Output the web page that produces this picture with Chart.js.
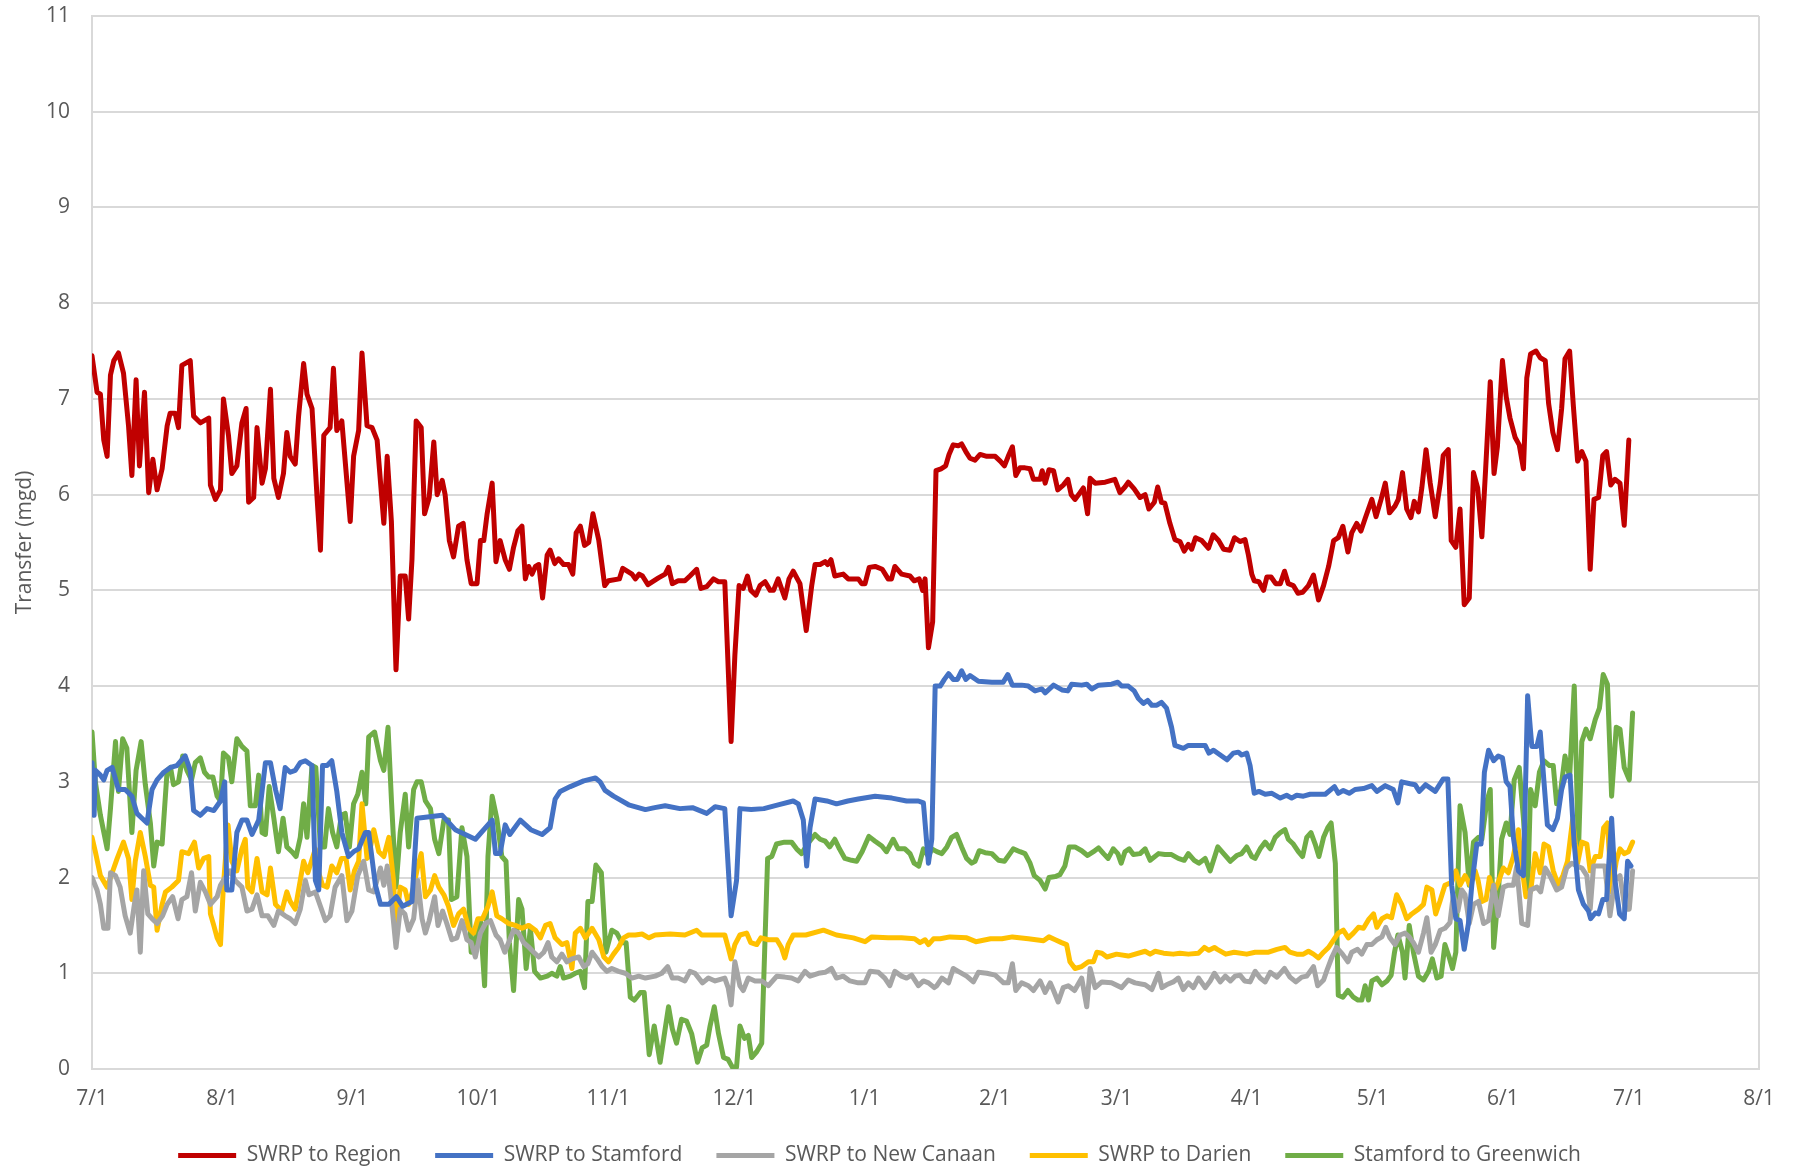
<!DOCTYPE html>
<html>
<head>
<meta charset="utf-8">
<title>Transfers</title>
<script src="https://cdn.jsdelivr.net/npm/chart.js@4.4.1/dist/chart.umd.min.js"></script>
<style>
  html, body { margin: 0; padding: 0; background: #fff; }
  #wrap { width: 1797px; height: 1171px; position: relative; overflow: hidden; }
</style>
</head>
<body>
<div id="wrap"><canvas id="graficoTransfer"></canvas></div>
<script>
// days counted from 7/1, values in mgd
var monthStarts = [0, 31, 62, 92, 123, 153, 184, 215, 244, 275, 305, 336, 366, 397];
var monthLabels = ['7/1', '8/1', '9/1', '10/1', '11/1', '12/1', '1/1', '2/1', '3/1', '4/1', '5/1', '6/1', '7/1', '8/1'];
var yTicks = [0, 1, 2, 3, 4, 5, 6, 7, 8, 9, 10, 11];

var swrpRegion = [[0,7.45],[1.2,7.07],[2,7.05],[2.8,6.57],[3.6,6.4],[4.4,7.25],[5.2,7.4],[6.3,7.48],[7.5,7.27],[8.7,6.72],[9.5,6.2],[10.5,7.2],[11.3,6.3],[12.5,7.07],[13.5,6.02],[14.5,6.37],[15.5,6.05],[16.7,6.27],[17.9,6.72],[18.6,6.85],[19.8,6.85],[20.6,6.7],[21.4,7.35],[23.4,7.4],[24.2,6.82],[25.8,6.75],[27.8,6.8],[28.2,6.1],[29.4,5.95],[30.6,6.05],[31.3,7.0],[32.5,6.62],[33.3,6.22],[34.5,6.3],[35.7,6.75],[36.7,6.9],[37.3,5.92],[38.5,5.97],[39.3,6.7],[40.5,6.12],[41.3,6.27],[42.5,7.1],[43.3,6.17],[44.4,5.97],[45.6,6.22],[46.4,6.65],[47.2,6.4],[48.4,6.32],[49.2,6.82],[50.4,7.37],[51.2,7.05],[52.4,6.9],[53.6,5.97],[54.4,5.42],[55.2,6.62],[56.7,6.7],[57.5,7.32],[58.3,6.67],[59.5,6.77],[61.5,5.72],[62.3,6.4],[63.5,6.67],[64.3,7.48],[65.5,6.72],[66.7,6.7],[67.9,6.57],[69.5,5.7],[70.3,6.4],[71.3,5.72],[72.4,4.17],[73.4,5.15],[74.6,5.15],[75.4,4.7],[76.2,5.32],[77.2,6.77],[78.4,6.7],[79.2,5.8],[80.3,5.97],[81.4,6.55],[82.2,6.0],[83.4,6.15],[84.1,6.0],[85.1,5.52],[86.1,5.35],[87.3,5.67],[88.4,5.7],[89.3,5.32],[90.3,5.07],[91.7,5.07],[92.5,5.52],[93.3,5.52],[94.1,5.8],[95.3,6.12],[96.2,5.3],[97.2,5.52],[98.4,5.32],[99.4,5.22],[100.4,5.45],[101.4,5.62],[102.4,5.67],[103.2,5.12],[104,5.25],[104.8,5.17],[105.6,5.25],[106.4,5.27],[107.3,4.92],[108.4,5.37],[109.1,5.42],[110.2,5.28],[111.1,5.33],[112.3,5.27],[113.5,5.27],[114.5,5.17],[115.3,5.6],[116.3,5.67],[117.3,5.47],[118.3,5.5],[119.3,5.8],[120.7,5.52],[122.1,5.05],[123,5.1],[125.6,5.12],[126.4,5.23],[128.6,5.17],[129.4,5.12],[130.3,5.17],[131.1,5.15],[132.4,5.06],[134.9,5.13],[136.5,5.17],[137.3,5.24],[138.2,5.07],[139.6,5.1],[141.2,5.1],[142.4,5.15],[144,5.22],[145,5.02],[146.4,5.04],[148,5.12],[149.2,5.09],[150.7,5.09],[152.2,3.42],[153.1,4.32],[154.1,5.05],[155.1,5.02],[156.1,5.15],[156.9,5.0],[158.1,4.95],[159.1,5.05],[160.3,5.09],[161.5,5.0],[162.3,5.0],[163.4,5.12],[165,4.92],[166,5.12],[167,5.2],[168.6,5.07],[170.1,4.58],[171.4,5.05],[172.2,5.27],[173.4,5.27],[174.6,5.3],[175.2,5.27],[176,5.32],[176.9,5.15],[178.9,5.17],[180.1,5.12],[182.5,5.12],[183.3,5.07],[184.1,5.07],[185.1,5.24],[186.5,5.25],[188.2,5.22],[189.6,5.12],[190.4,5.12],[191.2,5.25],[192.8,5.17],[194.8,5.15],[195.8,5.1],[197,5.12],[197.8,5.0],[198.4,5.12],[199.2,4.4],[200.2,4.67],[201,6.25],[202.2,6.27],[203.3,6.3],[204.1,6.42],[205.1,6.52],[206.3,6.51],[207.1,6.53],[208.1,6.45],[209.1,6.38],[210.3,6.36],[211.5,6.42],[213.1,6.4],[215.1,6.4],[216.3,6.35],[217.3,6.3],[218.2,6.4],[219.2,6.5],[220,6.2],[221,6.28],[222.2,6.28],[223.4,6.27],[224.2,6.16],[225.8,6.16],[226.3,6.25],[227,6.12],[227.9,6.26],[229,6.25],[230,6.05],[231.3,6.1],[232.4,6.16],[233.2,6.0],[234.1,5.95],[235.3,6.02],[236.1,6.07],[237.1,5.8],[237.7,6.17],[238.9,6.12],[241.3,6.13],[243.6,6.16],[244.8,6.02],[246,6.08],[246.8,6.13],[248.2,6.06],[249.6,5.97],[250.8,6.0],[251.7,5.85],[253,5.92],[253.8,6.08],[254.7,5.92],[255.5,5.91],[256.7,5.7],[257.9,5.53],[259.1,5.51],[260.1,5.41],[261.1,5.48],[261.9,5.43],[262.8,5.55],[264.3,5.52],[265.9,5.44],[267,5.58],[268.3,5.52],[269.5,5.43],[271,5.42],[272.1,5.55],[273.4,5.51],[274.6,5.53],[275.4,5.37],[276.2,5.17],[276.8,5.1],[277.9,5.09],[279,5.0],[279.8,5.14],[280.8,5.14],[281.9,5.07],[283,5.07],[284,5.2],[284.9,5.07],[286.1,5.05],[287.2,4.97],[288.3,4.98],[289.7,5.05],[290.9,5.16],[292.1,4.9],[293.3,5.05],[294.5,5.25],[295.7,5.52],[296.8,5.55],[297.9,5.67],[299.1,5.4],[300,5.6],[301.2,5.7],[302.2,5.62],[303.2,5.75],[304.8,5.95],[305.8,5.77],[307,5.95],[308,6.12],[309,5.81],[310.3,5.88],[311.1,5.95],[312.1,6.23],[313.1,5.85],[314.1,5.76],[314.9,5.93],[315.9,5.82],[316.7,6.07],[317.7,6.47],[318.7,6.12],[319.9,5.77],[321.1,6.12],[321.8,6.41],[323,6.47],[323.7,5.52],[324.8,5.45],[325.8,5.85],[326.8,4.85],[328,4.92],[329,6.23],[330,6.07],[331,5.56],[331.9,6.27],[333,7.18],[333.9,6.22],[334.7,6.5],[335.9,7.4],[336.8,7.02],[337.7,6.8],[338.9,6.6],[339.9,6.52],[340.9,6.27],[341.7,7.22],[342.6,7.47],[343.9,7.5],[344.9,7.43],[346.1,7.4],[346.9,6.95],[347.9,6.65],[349,6.47],[350,6.9],[350.8,7.42],[351.9,7.5],[352.8,6.92],[353.8,6.35],[354.8,6.45],[355.8,6.35],[356.8,5.22],[357.7,5.95],[358.8,5.97],[359.8,6.41],[360.7,6.45],[361.7,6.1],[362.7,6.16],[363.9,6.12],[364.9,5.68],[366,6.57]];

var swrpStamford = [[0,3.2],[0.5,2.65],[0.8,3.12],[2,3.07],[2.8,3.02],[3.6,3.12],[4.8,3.15],[6.3,2.92],[7.9,2.92],[9.5,2.85],[10.7,2.67],[11.9,2.62],[13.1,2.57],[14.3,2.92],[15.5,3.02],[17.1,3.1],[18.7,3.15],[20.2,3.17],[22.2,3.27],[23.4,3.12],[24.2,2.7],[25.8,2.65],[27.4,2.72],[29,2.7],[30.6,2.8],[31.6,3.0],[32.1,1.87],[33.3,1.87],[34.5,2.47],[35.7,2.6],[36.9,2.6],[38.1,2.45],[39.7,2.6],[41.3,3.2],[42.5,3.2],[43.7,2.92],[44.8,2.72],[46,3.15],[47.2,3.1],[48.4,3.12],[49.6,3.2],[50.8,3.22],[52.4,3.17],[53.2,1.97],[54,1.87],[54.9,3.17],[56,3.17],[57.1,3.22],[58.3,2.9],[59.5,2.47],[61.1,2.22],[62.3,2.27],[63.5,2.3],[65.1,2.47],[65.9,2.47],[67.5,1.92],[68.7,1.72],[70.7,1.72],[72.5,1.8],[74,1.7],[76.2,1.75],[77.4,2.62],[83.4,2.65],[86.5,2.5],[91.3,2.4],[95.3,2.6],[96.1,2.25],[97.2,2.25],[98.4,2.55],[99.5,2.45],[102,2.6],[104.5,2.5],[107.2,2.45],[109.1,2.52],[110.3,2.82],[111.5,2.9],[113.9,2.95],[117.1,3.01],[119.9,3.04],[121,3.0],[122.2,2.91],[124.2,2.85],[127.8,2.76],[131.8,2.71],[134,2.73],[136.5,2.75],[140,2.72],[143,2.73],[146.4,2.67],[148.4,2.74],[150.7,2.72],[152.2,1.6],[153.5,1.97],[154.3,2.72],[157,2.71],[160,2.72],[163.4,2.76],[167,2.8],[168.2,2.77],[169.4,2.6],[170.2,2.12],[171,2.52],[172.2,2.82],[175,2.8],[177.3,2.77],[180,2.8],[182.5,2.82],[186.5,2.85],[190.5,2.83],[194,2.8],[196.8,2.8],[198,2.78],[199.2,2.15],[200,2.4],[200.8,4.0],[202,4.0],[203,4.07],[204,4.13],[205.1,4.07],[206.1,4.07],[207.1,4.16],[208.1,4.07],[209.1,4.11],[211.1,4.05],[214.3,4.04],[217,4.04],[218.1,4.12],[219.2,4.01],[221.4,4.01],[223,4.0],[224.6,3.95],[226.2,3.97],[227,3.93],[229,4.01],[231,3.96],[232.4,3.95],[233.3,4.02],[235.7,4.01],[236.9,4.02],[238.1,3.97],[239.7,4.01],[242.8,4.02],[244.3,4.04],[245.2,4.0],[246.8,4.0],[248.2,3.95],[249.2,3.87],[250.4,3.82],[251.4,3.85],[252.4,3.8],[253.6,3.8],[254.7,3.83],[255.9,3.77],[257.1,3.57],[257.9,3.38],[259.9,3.35],[261.1,3.38],[262.7,3.38],[265.1,3.38],[266,3.3],[267.1,3.33],[268.7,3.28],[270.3,3.23],[271.8,3.3],[273,3.31],[273.8,3.28],[275,3.3],[275.8,3.17],[276.8,2.88],[277.9,2.9],[279.4,2.87],[281,2.88],[283,2.83],[284.5,2.86],[285.7,2.83],[286.9,2.86],[288.5,2.85],[290.1,2.87],[292.1,2.87],[293.7,2.87],[295.9,2.95],[296.8,2.88],[298,2.91],[299.4,2.88],[300.8,2.92],[302.8,2.93],[304.8,2.96],[306,2.9],[308,2.96],[309.9,2.92],[311,2.78],[311.9,3.0],[313.9,2.98],[315.1,2.97],[316.1,2.9],[317.6,2.97],[319.9,2.9],[321.8,3.03],[322.9,3.03],[323.8,1.92],[324.8,1.57],[325.8,1.55],[326.8,1.25],[327.8,1.52],[328.6,1.92],[329.8,2.35],[330.8,2.35],[331.6,3.1],[332.6,3.33],[333.8,3.22],[334.9,3.27],[335.9,3.25],[336.8,3.0],[337.7,2.95],[338.5,2.42],[339.7,2.07],[340.9,2.02],[341.9,3.9],[342.9,3.37],[344.1,3.37],[344.9,3.52],[345.7,3.05],[346.6,2.55],[347.9,2.5],[349,2.62],[350,2.92],[350.8,3.05],[352,3.07],[353,2.35],[354,1.87],[355.2,1.72],[356.4,1.65],[356.9,1.57],[358,1.63],[358.8,1.62],[359.8,1.77],[360.7,1.77],[361.9,2.62],[362.7,1.97],[363.8,1.62],[364.9,1.57],[365.7,2.17],[366.5,2.12]];

var swrpNewCanaan = [[0,2.0],[1.2,1.87],[2,1.72],[2.8,1.47],[3.8,1.47],[4.4,2.05],[5.6,2.02],[6.7,1.9],[7.9,1.6],[9.1,1.42],[10.2,1.75],[10.7,1.87],[11.5,1.22],[12.3,2.07],[13.3,1.62],[14.3,1.57],[15.5,1.52],[16.8,1.6],[17.9,1.72],[19.2,1.8],[20.5,1.57],[21.4,1.77],[22.6,1.8],[23.7,2.05],[24.6,1.65],[25.8,1.95],[27,1.85],[28.2,1.72],[29.8,1.8],[30.6,1.92],[31.7,2.0],[32.9,2.07],[34.1,1.97],[35.7,1.9],[36.9,1.65],[38.1,1.67],[39.3,1.82],[40.5,1.6],[41.9,1.6],[43.3,1.5],[44.4,1.65],[46,1.6],[47.2,1.57],[48.4,1.52],[49.6,1.67],[50.8,1.97],[51.7,1.82],[53.2,1.85],[54.4,1.7],[55.6,1.55],[56.7,1.6],[57.9,1.9],[59.5,2.02],[60.7,1.55],[61.9,1.65],[63.3,2.02],[64.7,2.17],[65.9,1.87],[67.1,1.85],[68.7,2.1],[69.5,1.92],[70.3,2.12],[71.4,1.72],[72.4,1.27],[73.4,1.67],[74.5,1.62],[75.4,1.45],[76.6,1.57],[77.6,1.97],[78.6,1.57],[79.4,1.42],[80.3,1.55],[81.6,1.8],[82.4,1.5],[83.5,1.65],[84.5,1.52],[85.7,1.35],[86.9,1.37],[88.1,1.55],[89.3,1.35],[90.3,1.32],[91.3,1.17],[92.5,1.42],[93.7,1.52],[94.9,1.55],[96.2,1.4],[97.2,1.35],[98.3,1.22],[99.2,1.32],[100.4,1.45],[101.6,1.42],[102.8,1.32],[104.1,1.27],[105.2,1.22],[106.4,1.17],[107.6,1.22],[108.6,1.32],[109.5,1.17],[110.7,1.12],[111.9,1.2],[113.1,1.12],[114.3,1.15],[115.9,1.17],[117.1,1.07],[118.1,1.1],[119.1,1.22],[120.3,1.15],[121.5,1.07],[122.6,1.02],[123.8,1.05],[125.4,1.02],[127,1.0],[128.6,0.95],[130.2,0.97],[131.8,0.95],[134.1,0.97],[135.7,1.0],[137.1,1.07],[138.2,0.95],[139.6,0.95],[141.2,0.92],[142.4,1.02],[143.6,1.0],[145.4,0.9],[146.8,0.95],[148.4,0.92],[150.7,0.95],[151.5,0.85],[152.2,0.67],[153.1,1.12],[154.3,0.87],[155.1,0.82],[156.3,0.95],[157.9,0.92],[159.5,0.92],[161.1,0.87],[163.1,0.97],[165,0.96],[166.6,0.95],[168.2,0.92],[169.8,1.02],[171,0.97],[173,1.0],[174.6,1.01],[176.1,1.05],[177.3,0.95],[178.9,0.97],[180.5,0.92],[182.5,0.9],[184.1,0.9],[185.3,1.02],[187.3,1.01],[188.8,0.95],[190,0.87],[191.2,1.02],[192.8,0.97],[194,0.95],[195.2,0.98],[196.8,0.87],[198,0.92],[199.2,0.9],[200.6,0.85],[201.2,0.87],[202.4,0.95],[204,0.9],[205.1,1.05],[206.3,1.02],[208.3,0.97],[209.9,0.91],[211.1,1.01],[213.1,1.0],[215.1,0.98],[217.1,0.9],[218.2,0.9],[219.2,1.1],[220,0.82],[221.4,0.9],[223,0.87],[224.2,0.82],[225.8,0.92],[227,0.8],[228.2,0.9],[229,0.82],[230.1,0.7],[231.3,0.85],[232.5,0.87],[234,0.82],[235.7,0.95],[236.9,0.65],[237.7,1.05],[238.9,0.85],[240.5,0.91],[242.8,0.9],[245.2,0.85],[246.8,0.93],[248.4,0.9],[250.8,0.88],[252.4,0.83],[254,1.0],[254.8,0.85],[255.9,0.88],[257.5,0.91],[258.7,0.95],[259.9,0.83],[261.1,0.9],[262.3,0.85],[263.5,0.95],[265.1,0.85],[266.3,0.92],[267.3,1.0],[268.7,0.91],[269.9,0.97],[271.1,0.92],[272.2,0.97],[273.4,0.98],[274.5,0.92],[275.8,0.91],[277,1.02],[278.2,0.95],[279.4,0.91],[280.6,1.01],[282.2,0.96],[284,1.05],[285.3,0.96],[286.7,0.91],[288.1,0.96],[289.3,0.97],[290.9,1.07],[291.9,0.87],[293.3,0.93],[294.1,1.03],[295.3,1.17],[296.4,1.27],[297.8,1.2],[299.1,1.12],[300,1.22],[301.4,1.25],[302.4,1.2],[303.6,1.3],[304.8,1.3],[306,1.35],[307.2,1.38],[308.1,1.48],[309.1,1.37],[310.3,1.3],[311.5,1.4],[312.7,1.42],[313.7,1.38],[314.7,1.32],[315.9,1.22],[317.1,1.42],[317.9,1.58],[318.9,1.22],[319.9,1.3],[321.1,1.45],[322.2,1.47],[323.4,1.53],[324.2,1.82],[325.3,1.65],[326.2,1.87],[327,1.82],[328,1.52],[329,1.72],[330.2,1.75],[331.4,1.52],[332.6,1.55],[333.8,1.92],[334.9,1.6],[336.1,1.9],[337.3,1.92],[338.5,1.92],[339.3,2.12],[340.5,1.52],[341.9,1.5],[342.6,1.87],[344.1,1.9],[345,1.85],[346.1,2.1],[347.2,2.02],[348.8,1.87],[350,1.9],[351.2,2.1],[352.4,2.15],[353.6,2.12],[354.8,2.1],[356,2.02],[356.8,1.67],[357.6,2.12],[359.2,2.12],[360.3,2.12],[361.5,1.6],[362.7,1.97],[363.9,2.02],[365.1,1.67],[366.1,1.67],[366.9,2.07]];

var swrpDarien = [[0,2.42],[0.8,2.27],[2,2.02],[3.6,1.9],[4.8,2.05],[6,2.2],[7.5,2.37],[8.7,2.2],[9.5,1.77],[10.3,2.17],[11.5,2.47],[12.7,2.22],[13.9,1.92],[14.7,1.9],[15.5,1.45],[16.7,1.72],[17.5,1.85],[19,1.9],[20.6,1.97],[21.4,2.27],[23,2.25],[24.4,2.37],[25.4,2.1],[26.6,2.2],[27.8,2.22],[28.2,1.62],[29,1.5],[29.8,1.37],[30.6,1.3],[31.3,1.92],[32.4,2.55],[33.3,2.17],[34.5,2.07],[35.7,2.3],[36.5,2.4],[37.1,1.9],[38.1,1.85],[39.3,2.2],[40.5,1.85],[41.7,1.82],[42.5,2.1],[43.7,1.72],[45.2,1.65],[46.4,1.85],[47.2,1.75],[48.4,1.67],[49.6,1.97],[50.4,2.17],[51.4,2.05],[53.2,2.3],[54,2.05],[54.9,1.92],[56,1.9],[57.1,2.12],[58.3,2.05],[59.4,2.2],[60.5,2.2],[61.5,1.87],[62.5,2.07],[63.5,2.17],[64.3,2.77],[65.5,2.2],[65.9,2.22],[67.1,2.5],[68.3,2.27],[69.5,2.22],[70.7,2.42],[71.8,1.97],[72.4,1.47],[73.4,1.9],[74.6,1.87],[75.4,1.72],[76.6,1.9],[77.6,2.12],[78.4,2.25],[79.4,1.8],[80.6,1.87],[81.6,2.02],[82.6,1.9],[83.8,1.82],[84.9,1.7],[86.1,1.5],[87.3,1.62],[88.5,1.67],[89.7,1.47],[90.9,1.42],[91.9,1.57],[93,1.57],[94.3,1.7],[95.3,1.85],[96.4,1.6],[97.6,1.57],[99.2,1.52],[100.8,1.5],[102.4,1.47],[104,1.5],[105.6,1.45],[106.8,1.37],[108,1.5],[109.1,1.52],[110.3,1.37],[111.9,1.3],[113.1,1.32],[114.3,1.05],[115.1,1.42],[116.3,1.47],[117.5,1.37],[119.1,1.47],[120.7,1.35],[121.9,1.17],[123,1.12],[124.2,1.2],[125.4,1.27],[126.6,1.37],[127.8,1.4],[129.4,1.4],[131,1.41],[132.6,1.37],[134.1,1.4],[137.7,1.41],[141.2,1.4],[144,1.45],[145.2,1.4],[148.8,1.4],[150.7,1.4],[151.5,1.27],[152.2,1.15],[153.1,1.3],[154.3,1.4],[155.9,1.42],[156.9,1.32],[158.3,1.3],[159.3,1.37],[161.1,1.35],[163.1,1.35],[164.2,1.27],[165,1.16],[165.8,1.3],[167,1.4],[170,1.4],[174.2,1.45],[177.3,1.4],[181.3,1.37],[184.1,1.33],[185.7,1.38],[189.6,1.37],[192.8,1.37],[195.9,1.36],[197.2,1.32],[198.4,1.35],[199.2,1.3],[200.4,1.36],[202,1.36],[204.3,1.38],[208.3,1.37],[210.5,1.33],[214,1.36],[216.7,1.36],[219.2,1.38],[223,1.36],[226.6,1.34],[227.9,1.38],[229.4,1.35],[230.9,1.32],[232.1,1.3],[232.9,1.12],[234.1,1.05],[235.7,1.07],[237.3,1.12],[238.5,1.12],[239.3,1.22],[240.5,1.21],[241.7,1.17],[244,1.2],[246.8,1.18],[250.8,1.23],[252,1.2],[253.2,1.23],[255.2,1.21],[257.5,1.2],[259.1,1.21],[261.1,1.2],[263.5,1.21],[264.9,1.27],[266,1.24],[267.3,1.27],[268,1.25],[270,1.2],[272,1.22],[275,1.2],[277,1.22],[280.2,1.22],[282.2,1.25],[284.1,1.27],[285.3,1.22],[286.9,1.2],[288.5,1.2],[289.7,1.23],[290.9,1.2],[292.1,1.16],[293.3,1.22],[294.5,1.27],[295.7,1.35],[296.8,1.42],[298,1.45],[299.2,1.37],[300.4,1.42],[301.6,1.48],[302.8,1.47],[304,1.56],[305.2,1.62],[306,1.48],[307.2,1.57],[308.4,1.6],[309.5,1.58],[310.7,1.82],[311.9,1.72],[313.1,1.57],[314.3,1.62],[315.9,1.67],[317.1,1.72],[317.9,1.9],[319.1,1.87],[320,1.62],[321,1.75],[322.2,1.92],[323.8,1.95],[324.8,2.07],[325.8,1.92],[327,2.02],[328.2,1.92],[329.4,2.07],[330.1,1.97],[331,1.75],[332,1.77],[332.8,2.0],[333.9,1.85],[334.9,1.95],[336.1,2.1],[337.3,2.05],[338.5,2.22],[339.7,2.5],[340.5,2.12],[341.5,1.8],[342.6,1.85],[343.7,2.25],[344.9,2.05],[345.8,2.35],[346.9,2.32],[348,2.07],[349.2,1.92],[350.3,2.02],[351.4,2.17],[352.6,2.6],[353.8,2.15],[354.8,2.37],[356,2.35],[356.8,2.07],[358,2.22],[359.2,2.22],[360,2.52],[360.9,2.57],[361.9,1.85],[363,2.17],[363.9,2.3],[364.9,2.25],[365.9,2.27],[366.9,2.37]];

var stamfordGreenwich = [[0,3.52],[0.8,3.0],[2,2.65],[3.6,2.3],[4.4,2.72],[5.6,3.42],[6.3,2.9],[7.3,3.45],[8.3,3.35],[9.5,2.47],[10.5,3.12],[11.7,3.42],[12.7,2.97],[13.9,2.57],[14.7,2.12],[15.5,2.37],[16.7,2.35],[17.9,3.12],[18.7,3.15],[19.4,2.97],[20.6,3.0],[21.6,3.27],[22.6,3.12],[23.7,3.02],[24.6,3.2],[25.8,3.25],[26.8,3.1],[27.8,3.05],[28.8,3.05],[29.8,2.85],[30.6,2.8],[31.3,3.3],[32.5,3.25],[33.3,3.0],[34.5,3.45],[35.7,3.37],[36.9,3.32],[37.7,2.75],[38.9,2.75],[39.7,3.07],[40.5,2.47],[41.3,2.45],[42.2,2.95],[43.3,2.62],[44.4,2.27],[45.5,2.62],[46.4,2.32],[47.6,2.27],[48.6,2.22],[49.6,2.42],[50.4,2.77],[51.2,2.42],[52.4,3.17],[53.3,3.15],[54.4,2.32],[55.4,2.32],[56.3,2.72],[57.3,2.47],[58.3,2.32],[59.4,2.65],[60.3,2.67],[61.3,2.32],[62.3,2.77],[63.3,2.87],[64.3,3.1],[65.2,2.77],[65.9,3.47],[67.3,3.52],[68.7,3.22],[69.5,3.12],[70.5,3.57],[71.3,2.82],[72.4,1.9],[73.4,2.47],[74.6,2.87],[75.4,2.32],[76.6,2.92],[77.4,3.0],[78.4,3.0],[79.4,2.8],[80.6,2.72],[81.6,2.4],[82.6,2.25],[83.8,2.6],[84.9,2.6],[85.6,1.77],[86.9,1.8],[88.1,2.52],[89.3,2.22],[90.3,1.22],[91.3,1.37],[92.5,1.55],[93.5,0.87],[94.3,2.22],[95.3,2.85],[96.4,2.62],[97.6,2.22],[98.6,2.17],[99.4,1.32],[100.4,0.82],[101.6,1.77],[102.4,1.67],[103.4,1.05],[104.4,1.47],[105.4,1.02],[106.8,0.95],[108.4,0.97],[109.5,1.0],[110.7,0.97],[111.5,1.07],[112.3,0.95],[113.9,0.97],[115.1,1.0],[116.3,1.02],[117.3,0.85],[118.1,1.75],[119.1,1.75],[120,2.13],[121.3,2.05],[122.4,1.22],[123.8,1.45],[125,1.42],[126.2,1.32],[127.2,1.32],[128.2,0.75],[129.2,0.72],[130.6,0.8],[131.5,0.8],[132.7,0.15],[133.9,0.45],[135.3,0.07],[136.5,0.42],[137.3,0.65],[138.2,0.42],[139.2,0.27],[140.4,0.52],[141.6,0.5],[142.8,0.37],[144.2,0.07],[145.3,0.22],[146.4,0.25],[147.2,0.45],[148.2,0.65],[149.2,0.37],[150.4,0.12],[151.5,0.1],[152.5,0.02],[153.5,0.02],[154.3,0.45],[155.4,0.32],[156.3,0.35],[157.1,0.12],[158.3,0.18],[159.5,0.27],[160.9,2.2],[161.9,2.22],[163,2.35],[164.9,2.37],[166.6,2.37],[167.8,2.3],[169,2.25],[170.4,2.35],[172.2,2.45],[173.4,2.4],[174.6,2.38],[175.7,2.32],[176.9,2.4],[178,2.3],[179.3,2.2],[180.9,2.18],[182.1,2.17],[183.4,2.27],[185,2.43],[186.5,2.38],[188.1,2.33],[189.2,2.27],[190.8,2.4],[192,2.3],[193.6,2.3],[194.8,2.25],[195.8,2.15],[196.9,2.12],[198,2.3],[199.2,2.22],[200,2.3],[201.2,2.27],[202.4,2.25],[203.6,2.32],[204.7,2.42],[205.9,2.45],[207.1,2.32],[208.3,2.2],[209.5,2.15],[210.3,2.17],[211.3,2.28],[212.7,2.26],[214.3,2.25],[215.9,2.18],[217.3,2.17],[218.6,2.25],[219.4,2.3],[221,2.27],[222.2,2.25],[223.4,2.15],[224.4,2.02],[225.8,1.97],[227,1.88],[227.9,2.0],[229.4,2.01],[230.5,2.03],[231.7,2.12],[232.7,2.32],[234.1,2.32],[235.7,2.28],[237.1,2.23],[238.5,2.27],[239.7,2.31],[240.9,2.25],[242,2.2],[243.2,2.3],[244.3,2.25],[245.1,2.15],[246,2.27],[247,2.3],[248,2.24],[249.6,2.25],[250.8,2.3],[252,2.18],[254,2.25],[255.5,2.24],[257.1,2.24],[258.7,2.2],[260.1,2.18],[261.1,2.25],[262.5,2.18],[263.6,2.15],[265.1,2.2],[266.3,2.07],[268.1,2.32],[269.5,2.25],[271.1,2.17],[272.6,2.23],[273.8,2.25],[275,2.32],[276.2,2.22],[277,2.2],[278.2,2.3],[279.4,2.37],[280.6,2.3],[281.8,2.42],[283,2.47],[284.1,2.5],[284.9,2.4],[286.1,2.35],[287.3,2.27],[288.3,2.22],[289.3,2.42],[290.3,2.47],[291.3,2.35],[292.2,2.22],[293.3,2.42],[294.3,2.52],[295.1,2.57],[296.1,2.15],[296.8,0.77],[297.9,0.75],[299.1,0.82],[300.4,0.75],[301.5,0.72],[302.4,0.72],[303.2,0.87],[304,0.72],[304.8,0.92],[306,0.95],[307.2,0.88],[308.4,0.92],[309.4,0.98],[310.2,1.22],[311,1.4],[312.1,1.22],[312.7,0.95],[313.7,1.5],[314.7,1.22],[315.9,0.97],[317.1,0.93],[318.3,1.02],[319.2,1.15],[320.3,0.95],[321.3,0.97],[322.2,1.3],[323.2,1.17],[324,1.05],[324.8,1.22],[325.8,2.75],[327,2.47],[328,1.92],[329,2.37],[330.2,2.42],[331,2.4],[332.2,2.8],[333,2.92],[333.8,1.27],[334.9,1.82],[335.7,2.4],[336.8,2.57],[337.7,2.45],[338.7,3.02],[339.9,3.15],[340.9,2.62],[341.9,1.85],[342.6,2.92],[343.7,2.75],[344.7,3.1],[345.8,3.22],[347.1,3.17],[348,3.17],[348.8,2.77],[349.8,2.92],[350.8,3.27],[351.9,3.05],[353,4.0],[354,2.27],[354.8,3.42],[355.8,3.55],[356.8,3.45],[358,3.65],[359,3.77],[359.9,4.12],[360.9,4.02],[361.9,2.85],[363,3.57],[363.9,3.55],[364.9,3.15],[366.1,3.02],[366.9,3.72]];

function toPoints(pairs) {
  return pairs.map(function(p) { return { x: p[0], y: p[1] }; });
}

function serie(label, pairs, color) {
  return {
    label: label,
    data: toPoints(pairs),
    borderColor: color,
    backgroundColor: color,
    borderWidth: 5,
    pointRadius: 0,
    pointHoverRadius: 0,
    tension: 0,
    borderJoinStyle: 'round',
    borderCapStyle: 'round'
  };
}

var textColor = '#595959';
var gridColor = '#d9d9d9';
var fontFamily = '"Open Sans", sans-serif';

var el = document.getElementById('graficoTransfer');
new Chart(el, {
  type: 'line',
  data: {
    datasets: [
      serie('SWRP to Region', swrpRegion, '#C00000'),
      serie('SWRP to Stamford', swrpStamford, '#4472C4'),
      serie('SWRP to New Canaan', swrpNewCanaan, '#A5A5A5'),
      serie('SWRP to Darien', swrpDarien, '#FFC000'),
      serie('Stamford to Greenwich', stamfordGreenwich, '#70AD47')
    ]
  },
  options: {
    responsive: true,
    maintainAspectRatio: false,
    animation: false,
    layout: { padding: { top: 16, right: 38, bottom: -5, left: 0 } },
    plugins: {
      tooltip: { enabled: false },
      legend: {
        position: 'bottom',
        labels: {
          color: textColor,
          font: { family: fontFamily, size: 21 },
          usePointStyle: true,
          pointStyle: 'line',
          pointStyleWidth: 58,
          boxHeight: 5,
          padding: 34
        }
      }
    },
    scales: {
      x: {
        type: 'linear',
        min: 0,
        max: 397,
        afterBuildTicks: function(scale) {
          scale.ticks = monthStarts.map(function(v) { return { value: v }; });
        },
        afterFit: function(scale) { scale.height = 42; },
        ticks: {
          autoSkip: false,
          maxRotation: 0,
          padding: 17,
          color: textColor,
          font: { family: fontFamily, size: 21 },
          callback: function(value) {
            return monthLabels[monthStarts.indexOf(value)];
          }
        },
        grid: {
          drawTicks: false,
          color: function(ctx) {
            return (ctx.tick && (ctx.tick.value === 0 || ctx.tick.value === 397)) ? gridColor : 'rgba(0,0,0,0)';
          },
          lineWidth: 2
        },
        border: { display: true, color: gridColor, width: 2 }
      },
      y: {
        min: 0,
        max: 11,
        afterBuildTicks: function(scale) {
          scale.ticks = yTicks.map(function(v) { return { value: v }; });
        },
        afterFit: function(scale) {
          scale.width = 92;
          scale.paddingTop = 0;
          scale.paddingBottom = 0;
        },
        ticks: {
          padding: 22,
          color: textColor,
          font: { family: fontFamily, size: 21 }
        },
        grid: { drawTicks: false, color: gridColor, lineWidth: 2 },
        border: { display: true, color: gridColor, width: 2 },
        title: {
          display: true,
          text: 'Transfer (mgd)',
          color: textColor,
          font: { family: fontFamily, size: 21 },
          padding: { top: 12, bottom: 0 }
        }
      }
    }
  }
});
</script>
</body>
</html>
